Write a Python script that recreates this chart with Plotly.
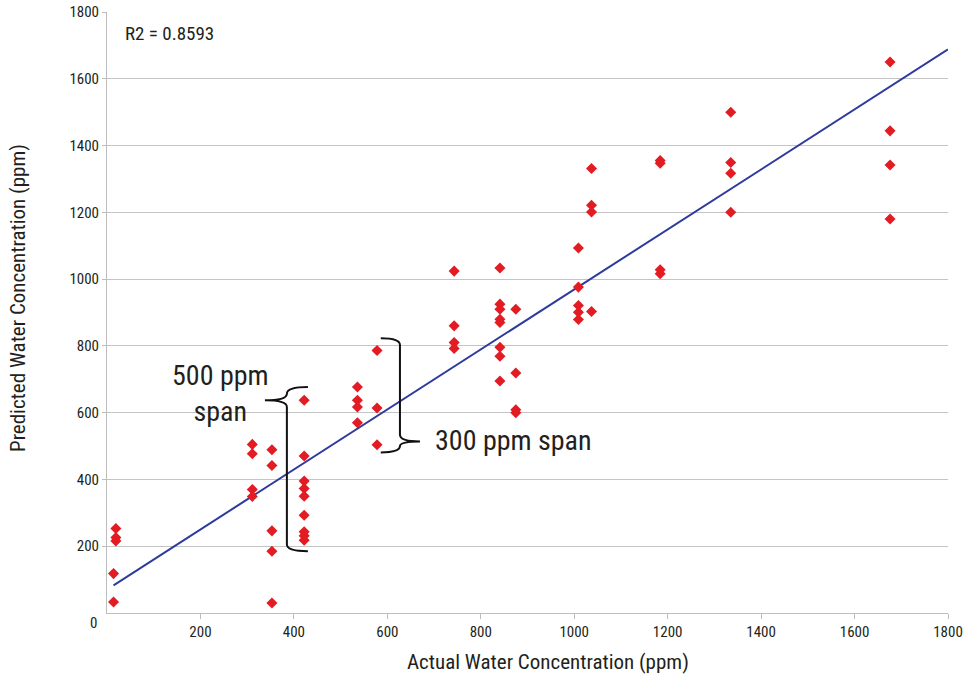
import plotly.graph_objects as go

# Data
actual = [19, 19, 19, 14, 14,
          311, 311, 311, 311,
          353, 353, 353, 353, 353,
          422, 422, 422, 422, 422, 422, 422, 422, 422,
          536, 536, 536, 536,
          578, 578, 578,
          743, 743, 743, 743,
          841, 841, 841, 841, 841, 841, 841, 841,
          875, 875, 875, 875,
          1009, 1009, 1009, 1009, 1009,
          1037, 1037, 1037, 1037,
          1184, 1184, 1184, 1184,
          1335, 1335, 1335, 1335,
          1676, 1676, 1676, 1676]
predicted = [253, 226, 216, 118, 33,
             505, 477, 370, 349,
             489, 442, 246, 185, 30,
             637, 470, 395, 373, 350, 293, 243, 231, 218,
             677, 637, 617, 570,
             786, 614, 504,
             1024, 860, 810, 792,
             1033, 925, 910, 880, 870, 796, 769, 695,
             910, 719, 609, 600,
             1093, 976, 921, 901, 879,
             1331, 1221, 1201, 903,
             1355, 1347, 1028, 1016,
             1500, 1349, 1317, 1200,
             1650, 1444, 1342, 1180]
# Trendline end values
trend_actual = [14, 1800]
trend_predicted = [83, 1688]
axis_ticks = [200, 400, 600, 800, 1000, 1200, 1400, 1600, 1800]
r2_label = "R2 = 0.8593"

FONT = "Liberation Sans Narrow, Roboto Condensed, DejaVu Sans Condensed, sans-serif"
TXT = "#231f20"

fig = go.Figure()
fig.add_trace(go.Scatter(x=trend_actual, y=trend_predicted, mode="lines",
                         line=dict(color="#2e3a9c", width=2), hoverinfo="skip"))
fig.add_trace(go.Scatter(x=actual, y=predicted, mode="markers",
                         marker=dict(symbol="diamond", size=8.5, color="#e31b23")))

# Braces
brace_left = "M 430,677 Q 385,677 385,657 Q 385,637 338,637 Q 385,637 385,617 L 385,205 Q 385,185 430,185"
brace_right = "M 586,823 Q 627,823 627,803 L 627,534 Q 627,514 670,514 Q 627,514 627,500 Q 627,481 586,481"
for p in (brace_left, brace_right):
    fig.add_shape(type="path", path=p, xref="x", yref="y",
                  line=dict(color="#111111", width=2))

fig.update_layout(
    width=964, height=675,
    margin=dict(l=107, r=16, t=12, b=62, autoexpand=False),
    paper_bgcolor="white", plot_bgcolor="white",
    showlegend=False,
    font=dict(family=FONT, color=TXT, size=14),
    xaxis=dict(range=[0, 1800], tickvals=axis_ticks, showgrid=False,
               showline=True, linecolor="#bdbdbd", linewidth=1,
               ticks="outside", ticklen=5, tickcolor="#bdbdbd",
               tickfont=dict(size=15, family=FONT, color=TXT), zeroline=False),
    yaxis=dict(range=[0, 1800], tickvals=axis_ticks, showgrid=True,
               gridcolor="#c4c4c4", gridwidth=1,
               showline=True, linecolor="#bdbdbd", linewidth=1,
               ticks="outside", ticklen=4, tickcolor="#bdbdbd",
               tickfont=dict(size=15, family=FONT, color=TXT), zeroline=False),
)

fig.add_annotation(text="0", xref="paper", yref="y", x=0, y=0, xshift=-14, yshift=-10,
                   xanchor="center", yanchor="middle",
                   showarrow=False, font=dict(size=15, family=FONT, color=TXT))
fig.add_annotation(text="Actual Water Concentration (ppm)", xref="paper", yref="paper",
                   x=(548 - 107) / 841, y=0, yshift=-49, xanchor="center", yanchor="middle",
                   showarrow=False, font=dict(size=21, family=FONT, color=TXT))
fig.add_annotation(text="Predicted Water Concentration (ppm)", xref="paper", yref="paper",
                   x=0, xshift=-89, y=(613 - 298) / 601, xanchor="center", yanchor="middle",
                   textangle=-90, showarrow=False,
                   font=dict(size=21, family=FONT, color=TXT))
fig.add_annotation(text=r2_label, xref="paper", yref="paper", x=16 / 841, y=1, yshift=-21,
                   xanchor="left", yanchor="middle", showarrow=False,
                   font=dict(size=19, family=FONT, color=TXT))
fig.add_annotation(text="500 ppm<br>span", xref="x", yref="y", x=242, y=657,
                   showarrow=False, font=dict(size=28, family=FONT, color=TXT))
fig.add_annotation(text="300 ppm span", xref="x", yref="y", x=871, y=516,
                   showarrow=False, font=dict(size=28, family=FONT, color=TXT))

fig.write_html("out.html")
